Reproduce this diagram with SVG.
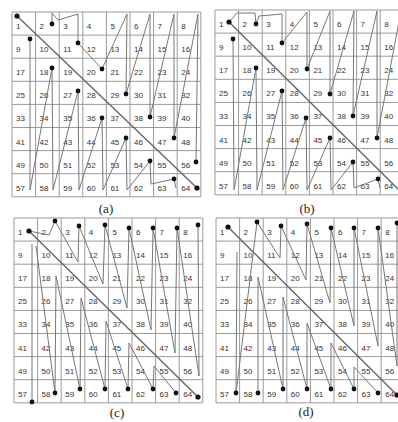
<svg xmlns="http://www.w3.org/2000/svg" xmlns:xlink="http://www.w3.org/1999/xlink" width="398" height="422" viewBox="0 0 398 422">
<style>
.grid{fill:none;stroke:#9a9a9a;stroke-width:1}
.path{fill:none;stroke:#777;stroke-width:1;stroke-linejoin:round}
.diag{fill:none;stroke:#666;stroke-width:1.4}
.dot{fill:#111}
.n{font-family:"Liberation Sans",Arial,sans-serif;font-size:8px;fill:#333}
.lbl{font-family:"Liberation Serif","Times New Roman",serif;font-size:13px;fill:#222;text-anchor:middle}
</style>
<defs>
<path id="gridp" class="grid" d="M0 0H188.8M0 23.1H188.8M0 46.2H188.8M0 69.3H188.8M0 92.4H188.8M0 115.5H188.8M0 138.6H188.8M0 161.7H188.8M0 184.8H188.8M0 0V184.8M23.6 0V184.8M47.2 0V184.8M70.8 0V184.8M94.4 0V184.8M118 0V184.8M141.6 0V184.8M165.2 0V184.8M188.8 0V184.8"/>
</defs>
<rect width="398" height="422" fill="#fff"/>

<g id="panel-a" transform="translate(12,12)">
<use xlink:href="#gridp"/>
<g class="n">
<g transform="translate(0,17)"><text x="4">1</text><text x="27.6">2</text><text x="51.2">3</text><text x="74.8">4</text><text x="98.4">5</text><text x="122">6</text><text x="145.6">7</text><text x="169.2">8</text></g>
<g transform="translate(0,40.1)"><text x="4">9</text><text x="27.6">10</text><text x="51.2">11</text><text x="74.8">12</text><text x="98.4">13</text><text x="122">14</text><text x="145.6">15</text><text x="169.2">16</text></g>
<g transform="translate(0,63.2)"><text x="4">17</text><text x="27.6">18</text><text x="51.2">19</text><text x="74.8">20</text><text x="98.4">21</text><text x="122">22</text><text x="145.6">23</text><text x="169.2">24</text></g>
<g transform="translate(0,86.3)"><text x="4">25</text><text x="27.6">26</text><text x="51.2">27</text><text x="74.8">28</text><text x="98.4">29</text><text x="122">30</text><text x="145.6">31</text><text x="169.2">32</text></g>
<g transform="translate(0,109.4)"><text x="4">33</text><text x="27.6">34</text><text x="51.2">35</text><text x="74.8">36</text><text x="98.4">37</text><text x="122">38</text><text x="145.6">39</text><text x="169.2">40</text></g>
<g transform="translate(0,132.5)"><text x="4">41</text><text x="27.6">42</text><text x="51.2">43</text><text x="74.8">44</text><text x="98.4">45</text><text x="122">46</text><text x="145.6">47</text><text x="169.2">48</text></g>
<g transform="translate(0,155.6)"><text x="4">49</text><text x="27.6">50</text><text x="51.2">51</text><text x="74.8">52</text><text x="98.4">53</text><text x="122">54</text><text x="145.6">55</text><text x="169.2">56</text></g>
<g transform="translate(0,178.7)"><text x="4">57</text><text x="27.6">58</text><text x="51.2">59</text><text x="74.8">60</text><text x="98.4">61</text><text x="122">62</text><text x="145.6">63</text><text x="169.2">64</text></g>
</g>
</g>

<g id="panel-b" transform="translate(215,10)">
<use xlink:href="#gridp"/>
<g class="n">
<g transform="translate(0,17)"><text x="4">1</text><text x="27.6">2</text><text x="51.2">3</text><text x="74.8">4</text><text x="98.4">5</text><text x="122">6</text><text x="145.6">7</text><text x="169.2">8</text></g>
<g transform="translate(0,40.1)"><text x="4">9</text><text x="27.6">10</text><text x="51.2">11</text><text x="74.8">12</text><text x="98.4">13</text><text x="122">14</text><text x="145.6">15</text><text x="169.2">16</text></g>
<g transform="translate(0,63.2)"><text x="4">17</text><text x="27.6">18</text><text x="51.2">19</text><text x="74.8">20</text><text x="98.4">21</text><text x="122">22</text><text x="145.6">23</text><text x="169.2">24</text></g>
<g transform="translate(0,86.3)"><text x="4">25</text><text x="27.6">26</text><text x="51.2">27</text><text x="74.8">28</text><text x="98.4">29</text><text x="122">30</text><text x="145.6">31</text><text x="169.2">32</text></g>
<g transform="translate(0,109.4)"><text x="4">33</text><text x="27.6">34</text><text x="51.2">35</text><text x="74.8">36</text><text x="98.4">37</text><text x="122">38</text><text x="145.6">39</text><text x="169.2">40</text></g>
<g transform="translate(0,132.5)"><text x="4">41</text><text x="27.6">42</text><text x="51.2">43</text><text x="74.8">44</text><text x="98.4">45</text><text x="122">46</text><text x="145.6">47</text><text x="169.2">48</text></g>
<g transform="translate(0,155.6)"><text x="4">49</text><text x="27.6">50</text><text x="51.2">51</text><text x="74.8">52</text><text x="98.4">53</text><text x="122">54</text><text x="145.6">55</text><text x="169.2">56</text></g>
<g transform="translate(0,178.7)"><text x="4">57</text><text x="27.6">58</text><text x="51.2">59</text><text x="74.8">60</text><text x="98.4">61</text><text x="122">62</text><text x="145.6">63</text><text x="169.2">64</text></g>
</g>
</g>

<g id="panel-c" transform="translate(14,218)">
<use xlink:href="#gridp"/>
<g class="n">
<g transform="translate(0,17)"><text x="4">1</text><text x="27.6">2</text><text x="51.2">3</text><text x="74.8">4</text><text x="98.4">5</text><text x="122">6</text><text x="145.6">7</text><text x="169.2">8</text></g>
<g transform="translate(0,40.1)"><text x="4">9</text><text x="27.6">10</text><text x="51.2">11</text><text x="74.8">12</text><text x="98.4">13</text><text x="122">14</text><text x="145.6">15</text><text x="169.2">16</text></g>
<g transform="translate(0,63.2)"><text x="4">17</text><text x="27.6">18</text><text x="51.2">19</text><text x="74.8">20</text><text x="98.4">21</text><text x="122">22</text><text x="145.6">23</text><text x="169.2">24</text></g>
<g transform="translate(0,86.3)"><text x="4">25</text><text x="27.6">26</text><text x="51.2">27</text><text x="74.8">28</text><text x="98.4">29</text><text x="122">30</text><text x="145.6">31</text><text x="169.2">32</text></g>
<g transform="translate(0,109.4)"><text x="4">33</text><text x="27.6">34</text><text x="51.2">35</text><text x="74.8">36</text><text x="98.4">37</text><text x="122">38</text><text x="145.6">39</text><text x="169.2">40</text></g>
<g transform="translate(0,132.5)"><text x="4">41</text><text x="27.6">42</text><text x="51.2">43</text><text x="74.8">44</text><text x="98.4">45</text><text x="122">46</text><text x="145.6">47</text><text x="169.2">48</text></g>
<g transform="translate(0,155.6)"><text x="4">49</text><text x="27.6">50</text><text x="51.2">51</text><text x="74.8">52</text><text x="98.4">53</text><text x="122">54</text><text x="145.6">55</text><text x="169.2">56</text></g>
<g transform="translate(0,178.7)"><text x="4">57</text><text x="27.6">58</text><text x="51.2">59</text><text x="74.8">60</text><text x="98.4">61</text><text x="122">62</text><text x="145.6">63</text><text x="169.2">64</text></g>
</g>
</g>

<g id="panel-d" transform="translate(216,218)">
<use xlink:href="#gridp"/>
<g class="n">
<g transform="translate(0,17)"><text x="4">1</text><text x="27.6">2</text><text x="51.2">3</text><text x="74.8">4</text><text x="98.4">5</text><text x="122">6</text><text x="145.6">7</text><text x="169.2">8</text></g>
<g transform="translate(0,40.1)"><text x="4">9</text><text x="27.6">10</text><text x="51.2">11</text><text x="74.8">12</text><text x="98.4">13</text><text x="122">14</text><text x="145.6">15</text><text x="169.2">16</text></g>
<g transform="translate(0,63.2)"><text x="4">17</text><text x="27.6">18</text><text x="51.2">19</text><text x="74.8">20</text><text x="98.4">21</text><text x="122">22</text><text x="145.6">23</text><text x="169.2">24</text></g>
<g transform="translate(0,86.3)"><text x="4">25</text><text x="27.6">26</text><text x="51.2">27</text><text x="74.8">28</text><text x="98.4">29</text><text x="122">30</text><text x="145.6">31</text><text x="169.2">32</text></g>
<g transform="translate(0,109.4)"><text x="4">33</text><text x="27.6">34</text><text x="51.2">35</text><text x="74.8">36</text><text x="98.4">37</text><text x="122">38</text><text x="145.6">39</text><text x="169.2">40</text></g>
<g transform="translate(0,132.5)"><text x="4">41</text><text x="27.6">42</text><text x="51.2">43</text><text x="74.8">44</text><text x="98.4">45</text><text x="122">46</text><text x="145.6">47</text><text x="169.2">48</text></g>
<g transform="translate(0,155.6)"><text x="4">49</text><text x="27.6">50</text><text x="51.2">51</text><text x="74.8">52</text><text x="98.4">53</text><text x="122">54</text><text x="145.6">55</text><text x="169.2">56</text></g>
<g transform="translate(0,178.7)"><text x="4">57</text><text x="27.6">58</text><text x="51.2">59</text><text x="74.8">60</text><text x="98.4">61</text><text x="122">62</text><text x="145.6">63</text><text x="169.2">64</text></g>
</g>
</g>

<g id="connectors">
<g transform="translate(12,12)">
<path class="diag" d="M5 4L185 176"/>
<path class="path" d="M40 12L40 1L46 8L66 2L66 31L90 57L115 2L114 82L138 2L138 105L162 2L162 126L186 2L184 150"/>
<path class="path" d="M18 27L18 178L40 56L41 178L66 79L67 178L90 106L91 178L114 126L115 178L138 149L139 172L162 167L164 176"/>
<g class="dot"><circle cx="5" cy="4" r="2.6"/><circle cx="185" cy="176" r="2.6"/><circle cx="40" cy="12" r="2.4"/><circle cx="66" cy="31" r="2.4"/><circle cx="90" cy="57" r="2.4"/><circle cx="114" cy="82" r="2.4"/><circle cx="138" cy="105" r="2.4"/><circle cx="162" cy="126" r="2.4"/><circle cx="184" cy="150" r="2.4"/><circle cx="18" cy="27" r="2.4"/><circle cx="40" cy="56" r="2.4"/><circle cx="66" cy="79" r="2.4"/><circle cx="90" cy="106" r="2.4"/><circle cx="114" cy="126" r="2.4"/><circle cx="138" cy="149" r="2.4"/><circle cx="162" cy="167" r="2.4"/></g>
</g>
<g transform="translate(215,10)">
<path class="diag" d="M14 12L186 182"/>
<path class="path" d="M14 12L22 3L40 3L41 14L44 6L67 4L67 33L92 2L92 59L115 1L115 84L139 1L138 106L162 1L162 128L186 1L186 150"/>
<path class="path" d="M18 29L19 180L41 58L42 180L67 81L68 180L91 108L92 180L115 128L116 180L138 152L139 178L163 169L165 178"/>
<g class="dot"><circle cx="14" cy="12" r="2.6"/><circle cx="41" cy="14" r="2.4"/><circle cx="67" cy="33" r="2.4"/><circle cx="92" cy="59" r="2.4"/><circle cx="115" cy="84" r="2.4"/><circle cx="138" cy="106" r="2.4"/><circle cx="162" cy="128" r="2.4"/><circle cx="186" cy="150" r="2.4"/><circle cx="18" cy="29" r="2.4"/><circle cx="41" cy="58" r="2.4"/><circle cx="67" cy="81" r="2.4"/><circle cx="91" cy="108" r="2.4"/><circle cx="115" cy="128" r="2.4"/><circle cx="138" cy="152" r="2.4"/><circle cx="163" cy="169" r="2.4"/></g>
</g>
<g transform="translate(14,218)">
<path class="diag" d="M15 13L184 179"/>
<path class="path" d="M15 13L35 17L41 3L64 44L65 8L89 66L91 7L113 90L115 10L137 112L139 10L161 135L163 10L185 158L184 7"/>
<path class="path" d="M18 26L18 184M22 28L41 175L42 58L66 171L67 80L91 171L92 103L114 171L115 125L139 171L140 148L162 175"/>
<g class="dot"><circle cx="15" cy="13" r="2.6"/><circle cx="184" cy="179" r="2.6"/><circle cx="41" cy="3" r="2.4"/><circle cx="65" cy="8" r="2.4"/><circle cx="91" cy="7" r="2.4"/><circle cx="115" cy="10" r="2.4"/><circle cx="139" cy="10" r="2.4"/><circle cx="163" cy="10" r="2.4"/><circle cx="184" cy="7" r="2.4"/><circle cx="18" cy="184" r="2.4"/><circle cx="41" cy="175" r="2.4"/><circle cx="66" cy="171" r="2.4"/><circle cx="91" cy="171" r="2.4"/><circle cx="114" cy="171" r="2.4"/><circle cx="139" cy="171" r="2.4"/><circle cx="162" cy="175" r="2.4"/></g>
</g>
<g transform="translate(216,218)">
<path class="diag" d="M12 9L181 177"/>
<path class="path" d="M41 4L64 40L65 8L90 62L91 6L114 85L115 10L138 108L138 10L162 128L162 10L181 148L181 5"/>
<path class="path" d="M41 4L20 175M21 34L20 175M42 175L42 59L67 171L67 79L91 171L91 105L115 171L115 125L138 171L138 149L162 175"/>
<g class="dot"><circle cx="12" cy="9" r="2.6"/><circle cx="181" cy="177" r="2.6"/><circle cx="41" cy="4" r="2.4"/><circle cx="65" cy="8" r="2.4"/><circle cx="91" cy="6" r="2.4"/><circle cx="115" cy="10" r="2.4"/><circle cx="138" cy="10" r="2.4"/><circle cx="162" cy="10" r="2.4"/><circle cx="181" cy="5" r="2.4"/><circle cx="20" cy="175" r="2.4"/><circle cx="42" cy="175" r="2.4"/><circle cx="67" cy="171" r="2.4"/><circle cx="91" cy="171" r="2.4"/><circle cx="115" cy="171" r="2.4"/><circle cx="138" cy="171" r="2.4"/><circle cx="162" cy="175" r="2.4"/></g>
</g>
</g>

<g id="labels">
<text class="lbl" x="106" y="213">(a)</text>
<text class="lbl" x="307" y="213">(b)</text>
<text class="lbl" x="117" y="417">(c)</text>
<text class="lbl" x="306" y="416">(d)</text>
</g>
</svg>
